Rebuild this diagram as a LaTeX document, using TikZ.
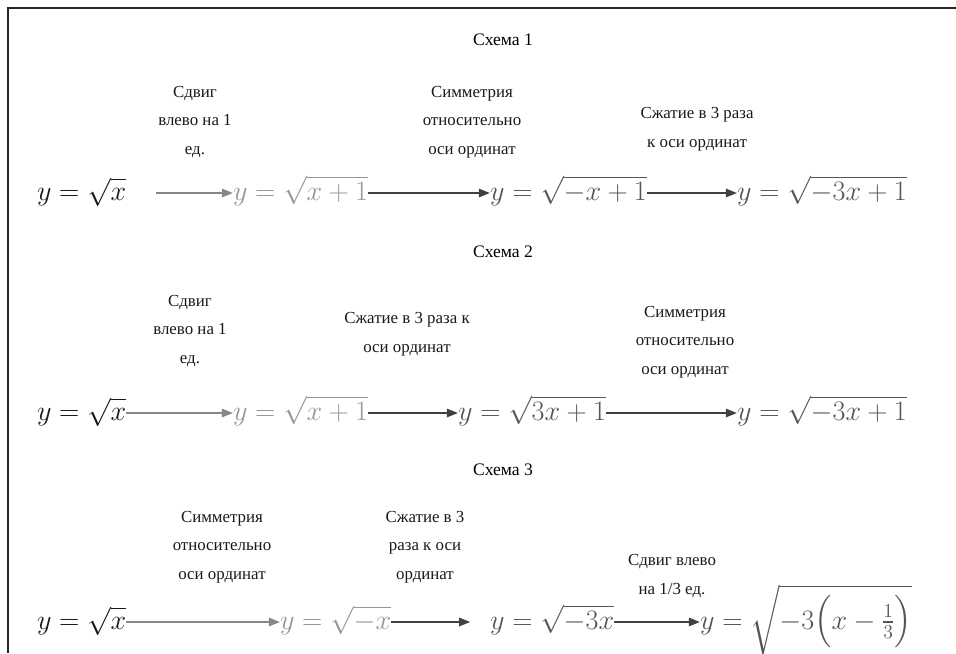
\RequirePackage{fix-cm}
\documentclass[tikz,border=0pt]{standalone}
\usepackage{exscale}
\usepackage{fontspec}
\setmainfont{Liberation Serif}
\usepackage{tikz}
\usetikzlibrary{positioning,arrows.meta}
\definecolor{eqdark}{RGB}{25,25,25}
\definecolor{eqlight}{RGB}{150,150,150}
\definecolor{eqmid}{RGB}{85,85,85}
\definecolor{arrlight}{RGB}{135,135,135}
\definecolor{arrdark}{RGB}{65,65,65}

\begin{document}
\begin{tikzpicture}[
    x=0.025cm, y=-0.025cm,
    heading/.style={font=\fontsize{12.5}{14}\selectfont, inner sep=0pt},
    note/.style={
        align=center, inner sep=0pt, text=black!90,
        font=\fontsize{12}{20.3}\selectfont
    },
    eq/.style={
        anchor=west, inner sep=0pt, outer sep=0pt,
        text height=14.5pt, text depth=4.5pt,
        font=\fontsize{20}{23}\selectfont
    },
    arrow/.style={-{Triangle[length=8pt,width=6pt]}, line width=1.35pt, draw=arrdark},
    arrowlight/.style={arrow, draw=arrlight}
]
    \useasboundingbox (0,0) rectangle (956,653);
    \draw[line width=1.4pt, draw=black!85] (956,8) -| (8,653);

    \node[heading] (t1) at (503,40) {Схема 1};
    \node[note] (na1) at (195,122) {Сдвиг\\влево на 1\\ед.};
    \node[note] (na2) at (472,122) {Симметрия\\относительно\\оси ординат};
    \node[note] (na3) at (697,129) {Сжатие в 3 раза\\к оси ординат};
    \node[eq, text=eqdark] (a1) at (37,193) {$y=\sqrt{x}$};
    \node[eq, text=eqlight] (a2) at (233,193) {$y=\sqrt{x+1}$};
    \node[eq, text=eqmid] (a3) at (490,193) {$y=\sqrt{-x+1}$};
    \node[eq, text=eqmid] (a4) at (737,193) {$y=\sqrt{-3x+1}$};

    \draw[arrowlight, shorten <=21pt] (a1) -- (a2);
    \draw[arrow] (a2) -- (a3);
    \draw[arrow] (a3) -- (a4);

    \node[heading] (t2) at (503,252) {Схема 2};
    \node[note] (nb1) at (190,331) {Сдвиг\\влево на 1\\ед.};
    \node[note] (nb2) at (407,334) {Сжатие в 3 раза к\\оси ординат};
    \node[note] (nb3) at (685,342) {Симметрия\\относительно\\оси ординат};
    \node[eq, text=eqdark] (b1) at (37,413) {$y=\sqrt{x}$};
    \node[eq, text=eqlight] (b2) at (233,413) {$y=\sqrt{x+1}$};
    \node[eq, text=eqmid] (b3) at (458,413) {$y=\sqrt{3x+1}$};
    \node[eq, text=eqmid] (b4) at (737,413) {$y=\sqrt{-3x+1}$};

    \draw[arrowlight] (b1) -- (b2);
    \draw[arrow] (b2) -- (b3);
    \draw[arrow] (b3) -- (b4);

    \node[heading] (t3) at (503,470) {Схема 3};
    \node[note] (nc1) at (222,547) {Симметрия\\относительно\\оси ординат};
    \node[note] (nc2) at (425,547) {Сжатие в 3\\раза к оси\\ординат};
    \node[note] (nc3) at (672,576) {Сдвиг влево\\на 1/3 ед.};
    \node[eq, text=eqdark] (c1) at (37,622) {$y=\sqrt{x}$};
    \node[eq, text=eqlight] (c2) at (280,622) {$y=\sqrt{-x}$};
    \node[eq, text=eqmid] (c3) at (490,622) {$y=\sqrt{-3x}$};
    \node[eq, text=eqmid] (c4) at (700,622) {$y=\sqrt{-3\Bigl(x-\frac{1}{3}\Bigr)}$};

    \draw[arrowlight] (c1) -- (c2);
    \draw[arrow, shorten >=14pt] (c2) -- (c3);
    \draw[arrow] (c3) -- (c4);
\end{tikzpicture}
\end{document}
